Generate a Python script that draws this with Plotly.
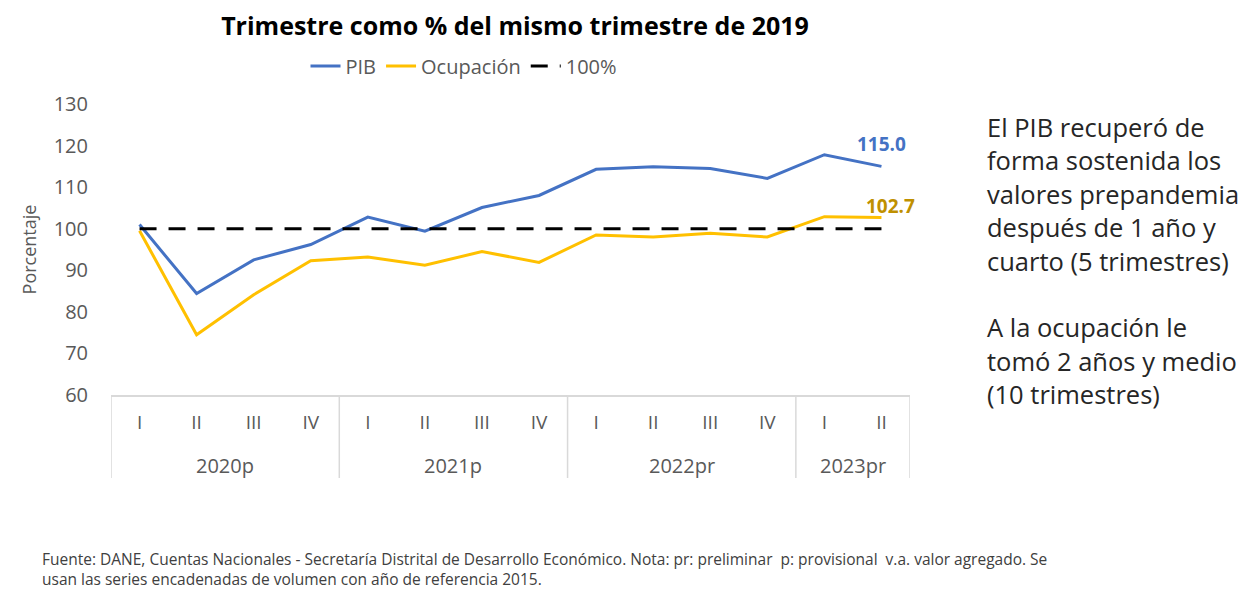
import plotly.graph_objects as go

# ---------------- data ----------------
years = ["2020p", "2021p", "2022pr", "2023pr"]
quarters_per_year = [4, 4, 4, 2]
quarter_names = ["I", "II", "III", "IV"]

pib = [101.0, 84.4, 92.5, 96.2, 102.8, 99.4, 105.1, 108.0,
       114.3, 114.9, 114.5, 112.1, 117.8, 115.0]
ocupacion = [99.5, 74.5, 84.1, 92.3, 93.2, 91.2, 94.5, 91.9,
             98.5, 98.0, 98.9, 98.0, 102.9, 102.7]
referencia = 100

title_text = "<b>Trimestre como % del mismo trimestre de 2019</b>"
series_names = ["PIB", "Ocupación", "100%"]
side_paragraphs = [
    ["El PIB recuperó de", "forma sostenida los", "valores prepandemia",
     "después de 1 año y", "cuarto (5 trimestres)"],
    ["A la ocupación le", "tomó 2 años y medio", "(10 trimestres)"],
]
footnote_lines = [
    "Fuente: DANE, Cuentas Nacionales - Secretaría Distrital de Desarrollo Económico. Nota: pr: preliminar  p: provisional  v.a. valor agregado. Se",
    "usan las series encadenadas de volumen con año de referencia 2015.",
]

# ---------------- build categories ----------------
quarters, year_of = [], []
for y, n in zip(years, quarters_per_year):
    for q in quarter_names[:n]:
        quarters.append(q)
        year_of.append(y)
xcats = [f"{y} {q}" for y, q in zip(year_of, quarters)]

BLUE = "#4472C4"
GOLD = "#FFC000"
GOLD_DARK = "#BF9000"
GRAY = "#595959"
FONT = "Open Sans"

fig = go.Figure()
fig.add_trace(go.Scatter(x=xcats, y=pib, mode="lines", name=series_names[0],
                         line=dict(color=BLUE, width=3)))
fig.add_trace(go.Scatter(x=xcats, y=ocupacion, mode="lines", name=series_names[1],
                         line=dict(color=GOLD, width=3)))
fig.add_trace(go.Scatter(x=xcats, y=[referencia] * len(xcats), mode="lines",
                         name=series_names[2],
                         line=dict(color="black", width=3, dash="17px,12px")))

# page has an 8px body margin: figure is drawn at (8, 8)
OFF = 8
WIN_W, WIN_H = 1258, 589
W, H = WIN_W - OFF, WIN_H - OFF
# plot-area geometry in window pixels
L, R, T, B = 111, 910, 104, 395
ph = B - T
pw = R - L


def py(p):
    return (B - p) / ph


def px(p):
    return (p - L) / pw


shapes = []
annotations = []

# year group dividers and labels
start = 0
bounds = [-0.5]
for y, n in zip(years, quarters_per_year):
    annotations.append(dict(x=start + (n - 1) / 2, y=py(465), xref="x", yref="paper",
                            text=y, showarrow=False, yanchor="middle",
                            font=dict(family=FONT, size=20, color=GRAY)))
    start += n
    bounds.append(start - 0.5)
for b in bounds:
    shapes.append(dict(type="line", xref="x", yref="paper", x0=b, x1=b,
                       y0=0, y1=py(478), line=dict(color="#d9d9d9", width=1.5)))

# end-value labels
annotations.append(dict(x=len(xcats) - 1, y=pib[-1], xref="x", yref="y",
                        text=f"<b>{pib[-1]:.1f}</b>", showarrow=False, yshift=22,
                        font=dict(family=FONT, size=19, color=BLUE)))
annotations.append(dict(x=len(xcats) - 1, y=ocupacion[-1], xref="x", yref="y",
                        text=f"<b>{ocupacion[-1]:.1f}</b>", showarrow=False, yshift=11,
                        xshift=9, font=dict(family=FONT, size=19, color=GOLD_DARK)))

# side text
line_y = 127
for para in side_paragraphs:
    for line in para:
        annotations.append(dict(x=px(985), y=py(line_y), xref="paper", yref="paper",
                                text=line, showarrow=False, xanchor="left",
                                yanchor="middle",
                                font=dict(family=FONT, size=25.5, color="#262626")))
        line_y += 33.4
    line_y += 33.4

# footnote (one text block, two lines)
annotations.append(dict(x=px(40), y=py(569), xref="paper", yref="paper",
                        text="<br>".join(footnote_lines), showarrow=False,
                        xanchor="left", yanchor="middle", align="left",
                        font=dict(family=FONT, size=15.5, color="#404040")))

fig.update_layout(
    width=W, height=H,
    margin=dict(l=L - OFF, r=W - (R - OFF), t=T - OFF, b=H - (B - OFF), pad=0),
    paper_bgcolor="white", plot_bgcolor="white",
    font=dict(family=FONT, color=GRAY),
    title=dict(text=title_text, x=(515 - OFF) / W, y=1 - (26 - OFF) / H,
               xref="container", yref="container", xanchor="center",
               yanchor="middle",
               font=dict(family=FONT, size=25, color="black")),
    legend=dict(orientation="h", x=px(464), y=py(66), xanchor="center",
                yanchor="middle", font=dict(family=FONT, size=20, color=GRAY),
                bgcolor="rgba(0,0,0,0)"),
    xaxis=dict(type="category", categoryorder="array", categoryarray=xcats,
               tickvals=xcats, ticktext=quarters, range=[-0.5, len(xcats) - 0.5],
               showline=True, linecolor="#d9d9d9", linewidth=1.5, showgrid=False,
               zeroline=False, ticks="", ticklabelstandoff=9,
               tickfont=dict(family=FONT, size=19, color=GRAY)),
    yaxis=dict(range=[60, 130], dtick=10, showgrid=False, zeroline=False,
               showline=False, ticks="", ticklabelstandoff=22,
               tickfont=dict(family=FONT, size=20, color=GRAY)),
    shapes=shapes,
    annotations=annotations,
    showlegend=True,
)
fig.update_yaxes(title=dict(text="Porcentaje", standoff=12,
                            font=dict(family=FONT, size=18, color=GRAY)))

fig.write_html("out.html")
